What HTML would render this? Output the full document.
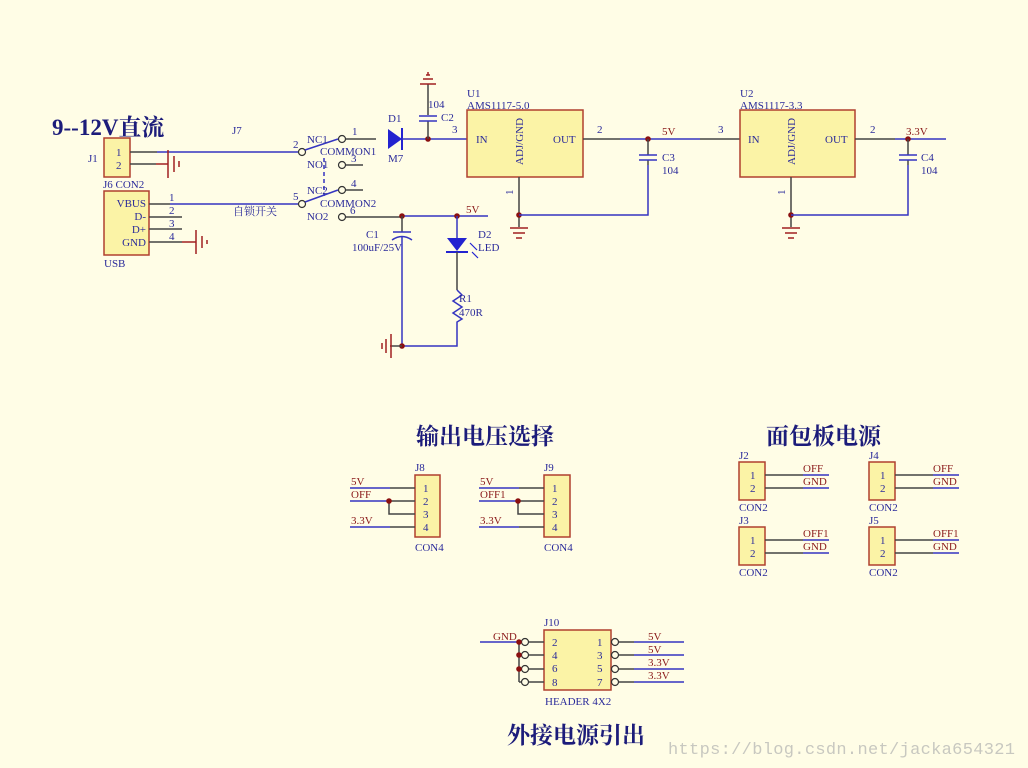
<!DOCTYPE html>
<html><head><meta charset="utf-8"><style>
html,body{margin:0;padding:0;background:#fffde6;}
svg{display:block;}
text{font-family:"Liberation Serif","Noto Serif CJK SC",serif;font-size:11px;fill:#2a2a9a;}
.r{fill:#8b1a1a;}
.t{font-family:"Liberation Serif","Noto Serif CJK SC",serif;font-weight:bold;font-size:23px;fill:#1c1c7a;}
.b{fill:#fbf3a6;stroke:#b0402e;stroke-width:1.5;}
.w{stroke:#3535c0;stroke-width:1.5;fill:none;}
.k{stroke:#444;stroke-width:1.5;fill:none;}
.g{stroke:#a02020;stroke-width:1.5;fill:none;}
.n{fill:#8b1010;}
.c{fill:#fffde6;stroke:#333;stroke-width:1.2;}
</style></head><body>
<svg width="1028" height="768" viewBox="0 0 1028 768">
<rect width="1028" height="768" fill="#fffde6"/>
<text x="52" y="135" class="t" style="font-size:23px">9--12V直流</text>
<!-- J1 -->
<rect x="104" y="138" width="26" height="39" class="b"/>
<text x="116" y="156">1</text><text x="116" y="169">2</text>
<text x="88" y="162">J1</text><text x="103" y="188">J6 CON2</text>
<text x="232" y="134">J7</text>
<path d="M130 152H157" class="k"/><path d="M157 152H298" class="w"/>
<path d="M130 164H156" class="k"/><path d="M156 164H168" class="g"/>
<path d="M168 150V178M174 156V172M179 161V167" class="g"/>
<!-- USB -->
<rect x="104" y="191" width="45" height="64" class="b"/>
<text x="146" y="207" text-anchor="end">VBUS</text><text x="146" y="220" text-anchor="end">D-</text>
<text x="146" y="233" text-anchor="end">D+</text><text x="146" y="246" text-anchor="end">GND</text>
<text x="104" y="267">USB</text>
<path d="M149 204H170M149 217H182M149 229H182M149 242H182" class="k"/>
<path d="M170 204H298" class="w"/>
<text x="169" y="201">1</text><text x="169" y="214">2</text><text x="169" y="227">3</text><text x="169" y="240">4</text>
<path d="M182 242H196M196 230V254M202 236V248M207 240V244" class="g"/>
<text x="233" y="215">自锁开关</text>
<!-- switch -->
<circle cx="302" cy="152" r="3.5" class="c"/><circle cx="342" cy="139" r="3.5" class="c"/><circle cx="342" cy="165" r="3.5" class="c"/>
<circle cx="302" cy="204" r="3.5" class="c"/><circle cx="342" cy="190" r="3.5" class="c"/><circle cx="342" cy="217" r="3.5" class="c"/>
<path d="M305 150L338 139M305 202L338 190" class="w"/>
<path d="M324 158V196" class="w" stroke-dasharray="4,3"/>
<text x="293" y="148">2</text><text x="293" y="200">5</text>
<text x="307" y="143">NC1</text><text x="320" y="155">COMMON1</text><text x="307" y="168">NO1</text>
<text x="352" y="135">1</text><text x="351" y="162">3</text>
<text x="307" y="194">NC2</text><text x="320" y="207">COMMON2</text><text x="307" y="220">NO2</text>
<text x="351" y="187">4</text><text x="350" y="214">6</text>
<path d="M346 139H376M346 165H363M346 190H363M346 217H402" class="k"/>
<path d="M402 216H488" class="w"/>
<text x="466" y="213" class="r">5V</text>
<!-- D1 -->
<path d="M388 129L402 139L388 149Z" fill="#2323d0"/><path d="M402 128V150" stroke="#2323d0" stroke-width="2"/>
<path d="M402 139H467" class="w"/>
<text x="388" y="122">D1</text><text x="388" y="162">M7</text>
<circle cx="428" cy="139" r="2.8" class="n"/>
<path d="M428 139V121M428 115V84" class="k"/>
<path d="M419 121H437M419 116H437" class="w"/>
<path d="M420 84H436M423 79H433M426 75H430M428 75V72" class="g"/>
<text x="428" y="108">104</text><text x="441" y="121">C2</text>
<text x="452" y="133">3</text>
<!-- U1 -->
<rect x="467" y="110" width="116" height="67" class="b"/>
<text x="467" y="97">U1</text><text x="467" y="109">AMS1117-5.0</text>
<text x="476" y="143">IN</text><text x="553" y="143">OUT</text>
<text transform="translate(523,165) rotate(-90)">ADJ/GND</text>
<path d="M519 177V227" class="k"/>
<text transform="translate(513,195) rotate(-90)">1</text>
<circle cx="519" cy="215" r="2.8" class="n"/>
<path d="M519 215H648V165" class="w"/><path d="M648 165V160" class="k"/>
<path d="M510 228H528M513 233H525M516 238H522" class="g"/>
<path d="M583 139H620" class="k"/><path d="M620 139H700" class="w"/><path d="M700 139H740" class="k"/>
<text x="597" y="133">2</text><text x="662" y="135" class="r">5V</text><text x="718" y="133">3</text>
<circle cx="648" cy="139" r="2.8" class="n"/>
<path d="M648 139V155" class="k"/><path d="M639 155H657M639 160H657" class="w"/>
<text x="662" y="161">C3</text><text x="662" y="174">104</text>
<!-- U2 -->
<rect x="740" y="110" width="115" height="67" class="b"/>
<text x="740" y="97">U2</text><text x="740" y="109">AMS1117-3.3</text>
<text x="748" y="143">IN</text><text x="825" y="143">OUT</text>
<text transform="translate(795,165) rotate(-90)">ADJ/GND</text>
<path d="M791 177V227" class="k"/>
<text transform="translate(785,195) rotate(-90)">1</text>
<circle cx="791" cy="215" r="2.8" class="n"/>
<path d="M791 215H908V165" class="w"/><path d="M908 165V160" class="k"/>
<path d="M782 228H800M785 233H797M788 238H794" class="g"/>
<path d="M855 139H895" class="k"/><path d="M895 139H946" class="w"/>
<text x="870" y="133">2</text><text x="906" y="135" class="r">3.3V</text>
<circle cx="908" cy="139" r="2.8" class="n"/>
<path d="M908 139V155" class="k"/><path d="M899 155H917M899 160H917" class="w"/>
<text x="921" y="161">C4</text><text x="921" y="174">104</text>
<!-- C1 / LED / R1 -->
<circle cx="402" cy="216" r="2.8" class="n"/><circle cx="457" cy="216" r="2.8" class="n"/>
<path d="M402 216V232" class="k"/><path d="M393 232H411" class="w"/>
<path d="M392 240Q402 233 412 240" class="w"/><path d="M402 237V346" class="w"/>
<text x="366" y="238">C1</text><text x="352" y="251">100uF/25V</text>
<path d="M457 216V238" class="w"/>
<path d="M447 238H467L457 251Z" fill="#2323d0"/><path d="M446 252H468" stroke="#2323d0" stroke-width="2"/>
<path d="M470 243L477 250M472 252L478 258" stroke="#2323d0" stroke-width="1.2"/>
<text x="478" y="238">D2</text><text x="478" y="251">LED</text>
<path d="M457 252V290" class="k"/>
<path d="M457 290L462 295L453 301L462 307L453 313L462 319L457 322V346H402" class="w"/>
<text x="459" y="302">R1</text><text x="459" y="316">470R</text>
<circle cx="402" cy="346" r="2.8" class="n"/>
<path d="M402 346H391" class="k"/><path d="M391 334V358M386 339V353M382 343V349M391 346H390" class="g"/>
<!-- output select -->
<text x="416" y="444" class="t">输出电压选择</text>
<rect x="415" y="475" width="25" height="62" class="b"/>
<text x="415" y="471">J8</text><text x="415" y="551">CON4</text>
<text x="423" y="492">1</text><text x="423" y="505">2</text><text x="423" y="518">3</text><text x="423" y="531">4</text>
<path d="M350 488H390M350 501H389M350 527H390" class="w"/>
<path d="M390 488H415M389 501H415M389 501V514H415M390 527H415" class="k"/>
<circle cx="389" cy="501" r="2.8" class="n"/>
<text x="351" y="485" class="r">5V</text><text x="351" y="498" class="r">OFF</text><text x="351" y="524" class="r">3.3V</text>
<rect x="544" y="475" width="26" height="62" class="b"/>
<text x="544" y="471">J9</text><text x="544" y="551">CON4</text>
<text x="552" y="492">1</text><text x="552" y="505">2</text><text x="552" y="518">3</text><text x="552" y="531">4</text>
<path d="M479 488H519M479 501H518M479 527H519" class="w"/>
<path d="M519 488H544M518 501H544M518 501V514H544M519 527H544" class="k"/>
<circle cx="518" cy="501" r="2.8" class="n"/>
<text x="480" y="485" class="r">5V</text><text x="480" y="498" class="r">OFF1</text><text x="480" y="524" class="r">3.3V</text>
<!-- breadboard -->
<text x="766" y="444" class="t">面包板电源</text>
<g id="j2">
<rect x="739" y="462" width="26" height="38" class="b"/>
<text x="750" y="479">1</text><text x="750" y="492">2</text>
<path d="M765 475H803M765 488H803" class="k"/><path d="M803 475H829M803 488H829" class="w"/>
</g>
<use href="#j2" x="130"/><use href="#j2" y="65"/><use href="#j2" x="130" y="65"/>
<text x="739" y="459">J2</text><text x="739" y="511">CON2</text><text x="803" y="472" class="r">OFF</text><text x="803" y="485" class="r">GND</text>
<text x="869" y="459">J4</text><text x="869" y="511">CON2</text><text x="933" y="472" class="r">OFF</text><text x="933" y="485" class="r">GND</text>
<text x="739" y="524">J3</text><text x="739" y="576">CON2</text><text x="803" y="537" class="r">OFF1</text><text x="803" y="550" class="r">GND</text>
<text x="869" y="524">J5</text><text x="869" y="576">CON2</text><text x="933" y="537" class="r">OFF1</text><text x="933" y="550" class="r">GND</text>
<!-- J10 -->
<rect x="544" y="630" width="67" height="60" class="b"/>
<text x="544" y="626">J10</text><text x="545" y="705">HEADER 4X2</text>
<text x="552" y="646">2</text><text x="552" y="659">4</text><text x="552" y="672">6</text><text x="552" y="686">8</text>
<text x="597" y="646">1</text><text x="597" y="659">3</text><text x="597" y="672">5</text><text x="597" y="686">7</text>
<path d="M480 642H519" class="w"/>
<path d="M519 642H521M519 655H521M519 669H521M519 682H521M519 642V682" class="k"/>
<circle cx="525" cy="642" r="3.5" class="c"/><circle cx="525" cy="655" r="3.5" class="c"/><circle cx="525" cy="669" r="3.5" class="c"/><circle cx="525" cy="682" r="3.5" class="c"/>
<path d="M529 642H544M529 655H544M529 669H544M529 682H544" class="k"/>
<circle cx="519" cy="642" r="2.8" class="n"/><circle cx="519" cy="655" r="2.8" class="n"/><circle cx="519" cy="669" r="2.8" class="n"/>
<circle cx="615" cy="642" r="3.5" class="c"/><circle cx="615" cy="655" r="3.5" class="c"/><circle cx="615" cy="669" r="3.5" class="c"/><circle cx="615" cy="682" r="3.5" class="c"/>
<path d="M619 642H634M619 655H634M619 669H634M619 682H634" class="k"/>
<path d="M634 642H684M634 655H684M634 669H684M634 682H684" class="w"/>
<text x="493" y="640" class="r">GND</text>
<text x="648" y="640" class="r">5V</text><text x="648" y="653" class="r">5V</text><text x="648" y="666" class="r">3.3V</text><text x="648" y="679" class="r">3.3V</text>
<text x="507" y="743" class="t">外接电源引出</text>
<text x="668" y="754" textLength="347" style="font-family:'Liberation Mono',monospace;font-size:17px;fill:#c8c8c0">https://blog.csdn.net/jacka654321</text>
</svg>
</body></html>
